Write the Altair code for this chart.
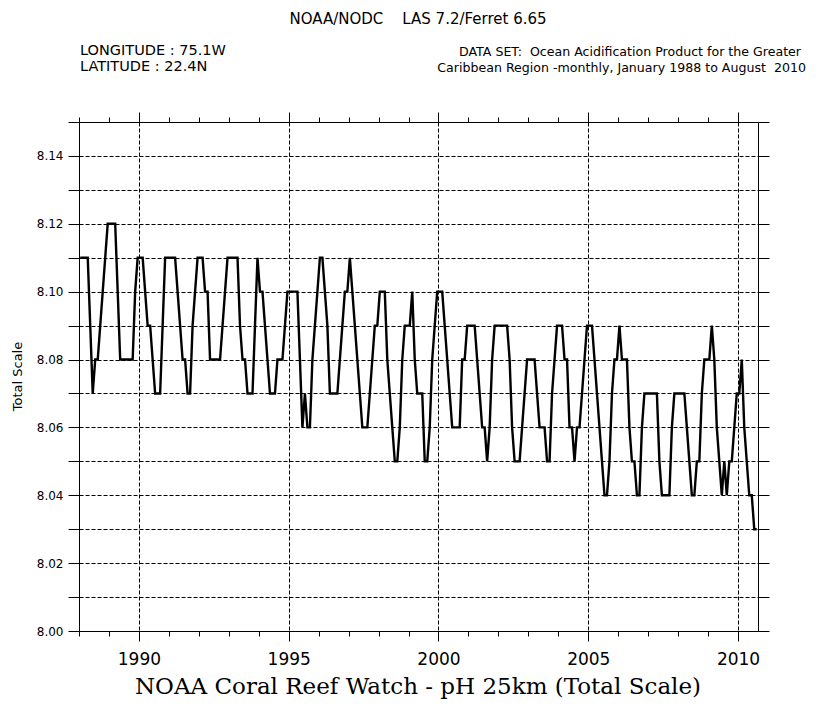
import altair as alt
import pandas as pd

# Monthly pH (total scale), January 1988 .. August 2010
ph_values = [
    8.11, 8.11, 8.11, 8.11, 8.09, 8.07, 8.08, 8.08, 8.09, 8.10, 8.11, 8.12,  # 1988
    8.12, 8.12, 8.12, 8.10, 8.08, 8.08, 8.08, 8.08, 8.08, 8.08, 8.10, 8.11,  # 1989
    8.11, 8.11, 8.10, 8.09, 8.09, 8.08, 8.07, 8.07, 8.07, 8.09, 8.11, 8.11,  # 1990
    8.11, 8.11, 8.11, 8.10, 8.09, 8.08, 8.08, 8.07, 8.07, 8.09, 8.10, 8.11,  # 1991
    8.11, 8.11, 8.10, 8.10, 8.08, 8.08, 8.08, 8.08, 8.08, 8.09, 8.10, 8.11,  # 1992
    8.11, 8.11, 8.11, 8.11, 8.09, 8.08, 8.08, 8.07, 8.07, 8.07, 8.09, 8.11,  # 1993
    8.10, 8.10, 8.09, 8.08, 8.07, 8.07, 8.07, 8.08, 8.08, 8.08, 8.09, 8.10,  # 1994
    8.10, 8.10, 8.10, 8.10, 8.08, 8.06, 8.07, 8.06, 8.06, 8.08, 8.09, 8.10,  # 1995
    8.11, 8.11, 8.10, 8.09, 8.07, 8.07, 8.07, 8.07, 8.08, 8.09, 8.10, 8.10,  # 1996
    8.11, 8.10, 8.09, 8.08, 8.07, 8.06, 8.06, 8.06, 8.07, 8.08, 8.09, 8.09,  # 1997
    8.10, 8.10, 8.10, 8.08, 8.07, 8.06, 8.05, 8.05, 8.06, 8.08, 8.09, 8.09,  # 1998
    8.09, 8.10, 8.08, 8.07, 8.07, 8.07, 8.05, 8.05, 8.06, 8.08, 8.09, 8.10,  # 1999
    8.10, 8.10, 8.09, 8.08, 8.07, 8.06, 8.06, 8.06, 8.06, 8.08, 8.08, 8.09,  # 2000
    8.09, 8.09, 8.09, 8.08, 8.07, 8.06, 8.06, 8.05, 8.06, 8.08, 8.09, 8.09,  # 2001
    8.09, 8.09, 8.09, 8.09, 8.08, 8.06, 8.05, 8.05, 8.05, 8.06, 8.07, 8.08,  # 2002
    8.08, 8.08, 8.08, 8.07, 8.06, 8.06, 8.06, 8.05, 8.05, 8.07, 8.08, 8.09,  # 2003
    8.09, 8.09, 8.08, 8.08, 8.06, 8.06, 8.05, 8.06, 8.06, 8.07, 8.08, 8.09,  # 2004
    8.09, 8.09, 8.08, 8.07, 8.06, 8.05, 8.04, 8.04, 8.05, 8.07, 8.08, 8.08,  # 2005
    8.09, 8.08, 8.08, 8.08, 8.06, 8.05, 8.05, 8.04, 8.04, 8.06, 8.07, 8.07,  # 2006
    8.07, 8.07, 8.07, 8.07, 8.05, 8.04, 8.04, 8.04, 8.04, 8.06, 8.07, 8.07,  # 2007
    8.07, 8.07, 8.07, 8.06, 8.05, 8.04, 8.04, 8.05, 8.05, 8.07, 8.08, 8.08,  # 2008
    8.08, 8.09, 8.08, 8.06, 8.05, 8.04, 8.05, 8.04, 8.05, 8.05, 8.06, 8.07,  # 2009
    8.07, 8.08, 8.06, 8.05, 8.04, 8.04, 8.03, 8.03,                          # 2010
]
start_year = 1988
x_tick_years = list(range(1988, 2011))
y_tick_values = [8.00, 8.01, 8.02, 8.03, 8.04, 8.05, 8.06, 8.07,
                 8.08, 8.09, 8.10, 8.11, 8.12, 8.13, 8.14, 8.15]
x_domain = [1988, 2010 + 8 / 12]
y_domain = [8.00, 8.15]

header_top = "NOAA/NODC\u00a0\u00a0\u00a0\u00a0LAS 7.2/Ferret 6.65"
header_left = ["LONGITUDE : 75.1W", "LATITUDE : 22.4N"]
header_right = ["DATA SET:\u00a0\u00a0Ocean Acidification Product for the Greater",
                "Caribbean Region -monthly, January 1988 to August\u00a0\u00a02010"]
bottom_title = "NOAA Coral Reef Watch - pH 25km (Total Scale)"
y_title = "Total Scale"

df = pd.DataFrame({
    "t": [start_year + (i + 0.5) / 12 for i in range(len(ph_values))],
    "ph": ph_values,
})

W, H = 679, 509
xs = alt.Scale(domain=x_domain, nice=False, zero=False)
ys = alt.Scale(domain=y_domain, nice=False, zero=False)
major = "datum.value % 5 == 0"

x_bottom = alt.Axis(
    values=x_tick_years,
    labelExpr=f"{major} ? format(datum.value, 'd') : ''",
    labelFlush=False, labelOverlap=False,
    tickSize={"condition": {"test": major, "value": 10}, "value": 5},
    grid=True,
    gridOpacity={"condition": {"test": major, "value": 1}, "value": 0},
    gridColor="black", gridDash=[4, 2], gridWidth=1,
    domainColor="black", tickColor="black", domainWidth=1, tickWidth=1,
    labelFont="DejaVu Sans", labelFontSize=17, labelColor="black",
    labelPadding=10, title=None,
)
y_left = alt.Axis(
    values=y_tick_values,
    labelExpr="round(datum.value * 100) % 2 == 0 ? format(datum.value, '.2f') : ''",
    labelOverlap=False, labelFlush=False,
    tickSize=11, grid=True, gridColor="black", gridDash=[4, 2], gridWidth=1,
    domainColor="black", tickColor="black", domainWidth=1, tickWidth=1,
    labelFont="DejaVu Sans", labelFontSize=12, labelColor="black",
    labelPadding=5, title=None,
)
x_top = alt.Axis(
    orient="top", values=x_tick_years, labels=False, grid=False,
    tickSize={"condition": {"test": major, "value": 10}, "value": 5},
    domainColor="black", tickColor="black", domainWidth=1, tickWidth=1, title=None,
)
y_right = alt.Axis(
    orient="right", values=y_tick_values, labels=False, grid=False, tickSize=11,
    domainColor="black", tickColor="black", domainWidth=1, tickWidth=1, title=None,
)

line = alt.Chart(df).mark_line(color="black", strokeWidth=2.4).encode(
    x=alt.X("t:Q", scale=xs, axis=x_bottom),
    y=alt.Y("ph:Q", scale=ys, axis=y_left),
)
frame = alt.Chart(df).mark_line(opacity=0).encode(
    x=alt.X("t:Q", scale=xs, axis=x_top),
    y=alt.Y("ph:Q", scale=ys, axis=y_right),
)


def label(text, x, y, size, align="left", font="DejaVu Sans", angle=0,
          baseline="middle"):
    kw = dict(align=align, baseline=baseline, font=font, fontSize=size, color="black")
    if angle:
        kw["angle"] = angle
    return alt.Chart(pd.DataFrame({"s": [text]})).mark_text(**kw).encode(
        x=alt.value(x), y=alt.value(y), text="s:N")


texts = [
    label(header_top, 339, -103, 15, align="center"),
    label(header_left[0], 1, -71, 14.5),
    label(header_left[1], 1, -55, 14.5),
    label(header_right[0], 722, -70, 12.6, align="right"),
    label(header_right[1], 727, -54, 12.6, align="right"),
    label(bottom_title, 339, H + 63, 23, align="center", font="DejaVu Serif",
          baseline="alphabetic"),
    label(y_title, -61, H / 2, 13, align="center", angle=270),
]

chart = alt.layer(line, frame, *texts).resolve_axis(
    x="independent", y="independent"
).properties(
    width=W, height=H,
    padding={"left": 71, "top": 114, "right": 52, "bottom": 70},
    autosize=alt.AutoSizeParams(type="none"),
    background="white",
).configure_view(stroke=None)

chart.save("out.html", embed_options={"renderer": "svg", "actions": False})
